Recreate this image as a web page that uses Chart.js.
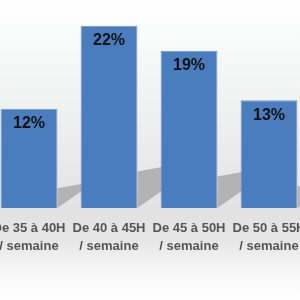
<!DOCTYPE html>
<html><head><meta charset="utf-8">
<script src="https://cdn.jsdelivr.net/npm/chart.js@4"></script>
<style>
html,body{margin:0;padding:0;width:300px;height:300px;overflow:hidden;
background:linear-gradient(to bottom,#ffffff 0%,#f4f5f5 25%,#e9e9e9 55%,#e2e2e2 70%,#e6e6e6 80%,#f6f6f6 90%,#ffffff 100%);}
#wrap{position:absolute;left:-11px;top:0;width:400px;height:300px;}
</style></head>
<body><div id="wrap"><canvas id="c" width="400" height="300"></canvas></div>
<script>
const categories = [["De 35 à 40H","/ semaine"],["De 40 à 45H","/ semaine"],["De 45 à 50H","/ semaine"],["De 50 à 55H","/ semaine"]];
const values = [12, 22, 19, 13];
const valueLabels = ["12%","22%","19%","13%"];

const shadowPlugin = {
  id:'shadows',
  beforeDatasetsDraw(chart){
    const ctx = chart.ctx;
    const meta = chart.getDatasetMeta(0);
    ctx.save();
    ctx.fillStyle = '#b3b3b3';
    meta.data.forEach(el=>{
      const r = el.x + el.width/2;
      const base = el.base;
      const h = base - el.y;
      const top = base - Math.min(h*0.2, 38);
      ctx.beginPath();
      ctx.moveTo(r, base);
      ctx.lineTo(r+30, base-21);
      ctx.lineTo(r+30, top-6);
      ctx.lineTo(r+22, top-4);
      ctx.lineTo(r, top);
      ctx.closePath();
      ctx.fill();
    });
    ctx.restore();
  }
};
const labelPlugin = {
  id:'vlabels',
  afterDatasetsDraw(chart){
    const ctx = chart.ctx;
    const meta = chart.getDatasetMeta(0);
    ctx.save();
    ctx.font = 'bold 16px "Liberation Sans", Arial, sans-serif';
    ctx.fillStyle = '#111111';
    ctx.textAlign = 'center';
    ctx.textBaseline = 'middle';
    meta.data.forEach((el,i)=>{
      ctx.fillText(valueLabels[i], el.x, el.y + 15);
    });
    ctx.restore();
  }
};

new Chart(document.getElementById('c'), {
  type:'bar',
  data:{labels:categories, datasets:[{data:values, backgroundColor:'#4a7dbd', borderColor:'#6d98cf', borderWidth:1, barPercentage:0.71, categoryPercentage:1}]},
  options:{
    responsive:false, animation:false,
    layout:{padding:{top:1,right:80,left:0,bottom:34}},
    plugins:{legend:{display:false}, tooltip:{enabled:false}},
    scales:{
      x:{offset:true, grid:{display:false, drawTicks:false}, border:{display:false},
         afterFit(s){ s.paddingLeft = 0; s.paddingRight = 0; },
         ticks:{padding:11, maxRotation:0, minRotation:0, autoSkip:false, color:'#555555', font:{family:'"Liberation Sans", Arial, sans-serif', weight:'bold', size:13, lineHeight:'18px'}}},
      y:{display:false, min:0, max:25}
    }
  },
  plugins:[shadowPlugin, labelPlugin]
});
</script></body></html>
